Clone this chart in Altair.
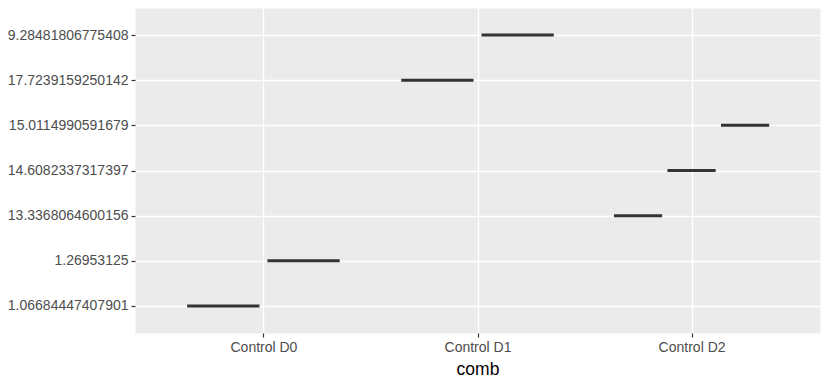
import altair as alt
import pandas as pd

categories = ["Control D0", "Control D1", "Control D2"]
comb = ["Control D0", "Control D0", "Control D1", "Control D1", "Control D2", "Control D2", "Control D2"]
value = ["1.06684447407901", "1.26953125", "17.7239159250142", "9.28481806775408",
         "13.3368064600156", "14.6082337317397", "15.0114990591679"]
group = [1, 2, 1, 2, 1, 2, 3]

df = pd.DataFrame({"comb": comb, "value": value, "grp": group})
df["pos"] = [categories.index(c) + 1 for c in comb]

label_expr = "[" + ",".join("'" + c + "'" for c in categories) + "][datum.value - 1]"

chart = (
    alt.Chart(df)
    .transform_joinaggregate(n="count()", groupby=["comb"])
    .transform_calculate(
        center="datum.pos + (datum.grp - (datum.n + 1) / 2) * 0.75 / datum.n",
    )
    .transform_calculate(
        lo="datum.center - 0.3375 / datum.n",
        hi="datum.center + 0.3375 / datum.n",
    )
    .mark_rule(color="#333333", strokeWidth=3)
    .encode(
        x=alt.X(
            "lo:Q",
            title="comb",
            scale=alt.Scale(domain=[0.4, 3.6], nice=False, zero=False),
            axis=alt.Axis(values=[1, 2, 3], labelExpr=label_expr, grid=True),
        ),
        x2="hi:Q",
        y=alt.Y(
            "value:N",
            title=None,
            sort="descending",
            scale=alt.Scale(type="point", padding=0.6),
            axis=alt.Axis(grid=True),
        ),
    )
    .properties(
        width=685,
        height=325,
        background="#FFFFFF",
        autosize=alt.AutoSizeParams(type="none"),
        padding={"left": 127, "top": 0, "right": 5, "bottom": 45},
    )
    .configure_view(fill="#EBEBEB", stroke="transparent")
    .configure_axis(
        domain=False,
        gridColor="#FFFFFF",
        gridWidth=1.4,
        tickColor="#333333",
        tickSize=4,
        tickWidth=1.2,
        labelColor="#4D4D4D",
        labelFont="Liberation Sans",
        labelFontSize=14,
        labelPadding=3,
        titleFont="Liberation Sans",
        titleFontSize=17.5,
        titleFontWeight="normal",
        titleColor="#000000",
        titlePadding=6,
    )
)

chart.save("out.html", embed_options={"renderer": "svg", "actions": False})
